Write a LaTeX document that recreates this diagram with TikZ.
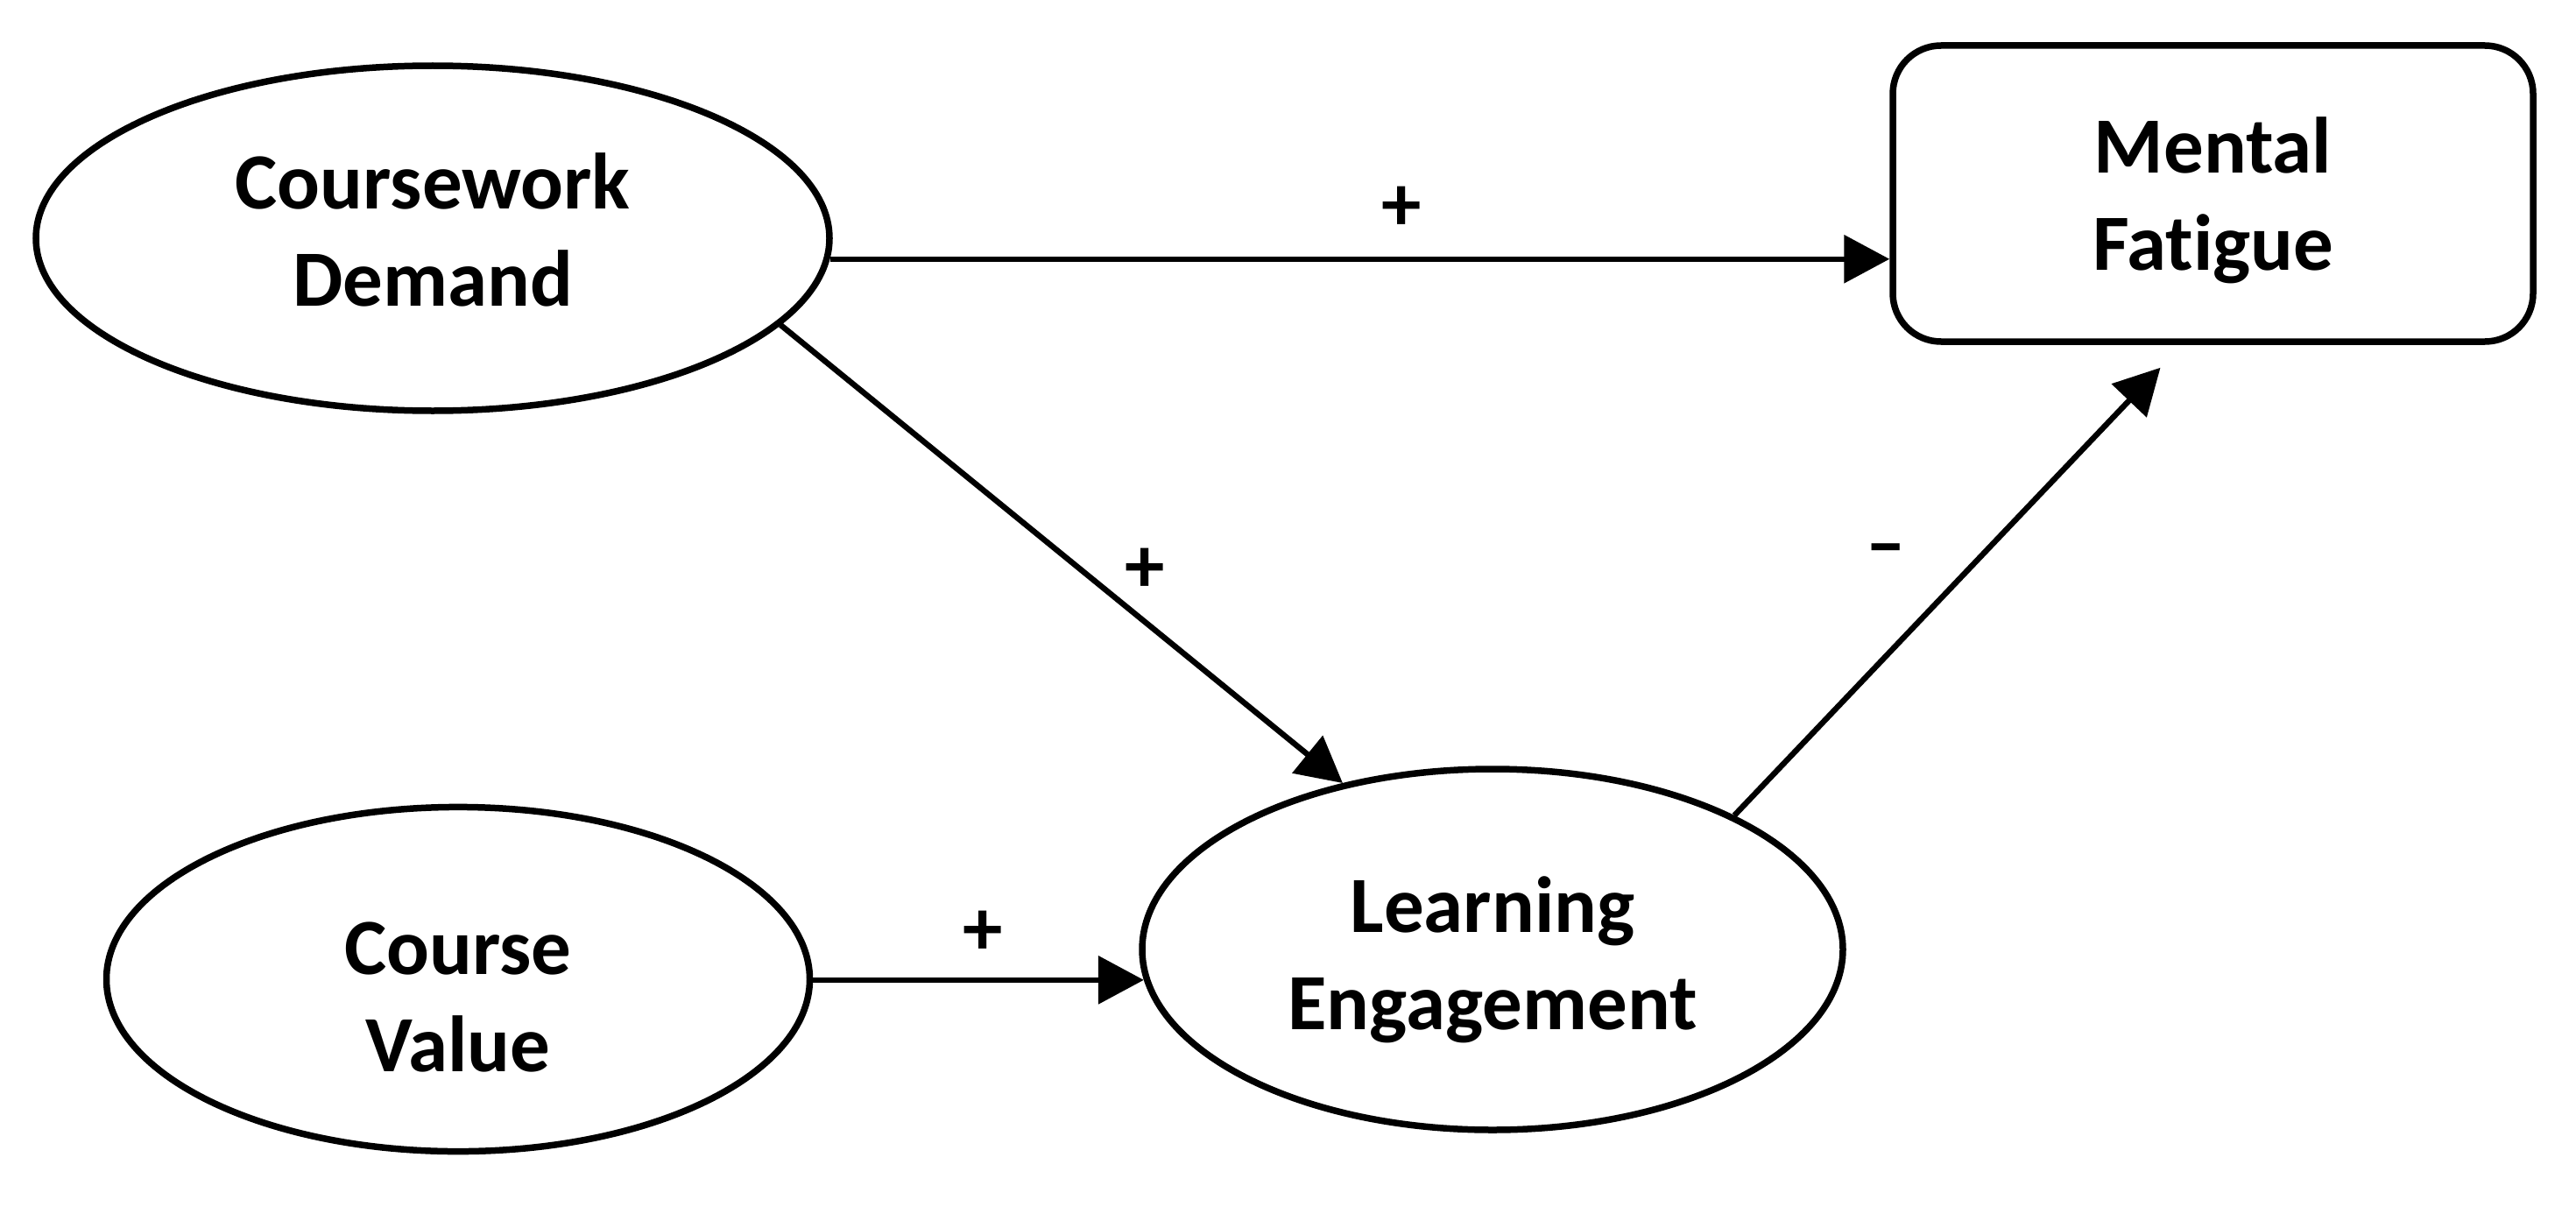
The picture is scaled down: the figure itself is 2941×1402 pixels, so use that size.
\documentclass[tikz,border=0pt]{standalone}
\usepackage{fontspec}
\setmainfont[Ligatures=NoCommon]{Carlito}
\usetikzlibrary{shapes.geometric,arrows.meta,calc}
% #1: extra height (moves text down), #2: extra depth (moves text up)
\newcommand{\twolines}[4]{\raisebox{0pt}[\dimexpr\height+#1\relax][\dimexpr\depth+#2\relax]{\begin{tabular}{@{}c@{}}#3\\#4\end{tabular}}}
\begin{document}
\begin{tikzpicture}[x=1pt,y=-1pt,
  every node/.style={font=\bfseries\fontsize{91}{111}\selectfont},
  latent/.style={ellipse,draw,line width=7.5pt,inner sep=0pt},
  obs/.style={rectangle,draw,rounded corners=55pt,line width=7.5pt,inner sep=0pt},
  arr/.style={line width=6.5pt,-{Triangle[length=52pt,width=54pt]}},
  sign/.style={inner sep=0pt}]
\useasboundingbox (0,0) rectangle (2941,1402);
\node[latent,minimum width=906pt,minimum height=394pt] (CD) at (494,272) {\twolines{0pt}{0pt}{Coursework}{Demand}};
\node[obs,minimum width=731pt,minimum height=338pt] (MF) at (2526.5,221) {\twolines{20pt}{0pt}{Mental}{Fatigue}};
\node[latent,minimum width=800pt,minimum height=412pt] (LE) at (1704,1084) {\twolines{28pt}{0pt}{Learning}{Engagement}};
\node[latent,minimum width=803pt,minimum height=390pt] (CV) at (523,1118) {\twolines{56pt}{0pt}{Course}{Value}};
\coordinate (mftip) at ([xshift=-60pt,yshift=-26pt]MF.south);
\draw[arr] (CD.-3.06) -- (CD.-3.06 -| MF.west);
\draw[arr] (CD.-14.9) -- (LE.132.3);
\draw[arr] (LE.185.2 -| CV.east) -- (LE.185.2);
\draw[arr] (LE.29) -- (mftip);
\node[sign] (s1) at (1600,238) {+};
\node[sign] (s2) at (1307,651) {+};
\node[sign] (s3) at (1122,1065) {+};
\node[sign] (s4) at (2153,636) {–};
\end{tikzpicture}
\end{document}
